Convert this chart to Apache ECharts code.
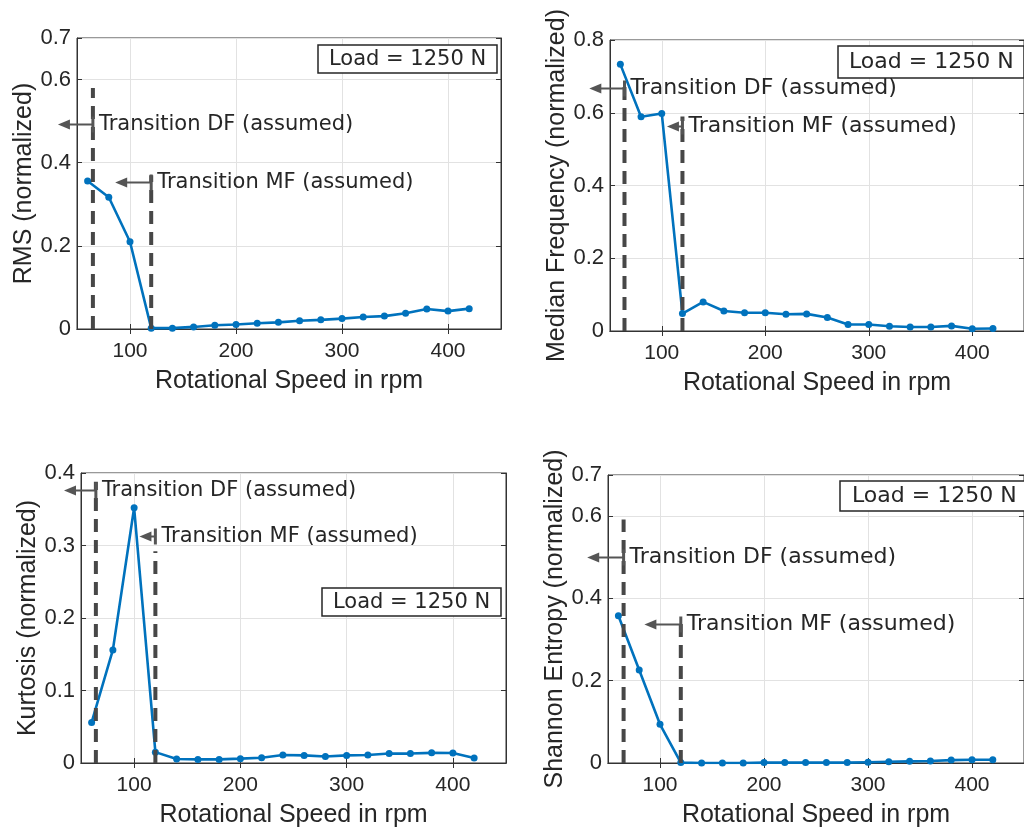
<!DOCTYPE html>
<html>
<head>
<meta charset="utf-8">
<script src="https://cdn.jsdelivr.net/npm/echarts@6/dist/echarts.min.js"></script>
<style>
html,body{margin:0;padding:0;background:#fff;}
#chart{width:1024px;height:829px;}
</style>
</head>
<body>
<div id="chart"></div>
<script>
// ---------- data ----------
const rpm = [60, 80, 100, 120, 140, 160, 180, 200, 220, 240, 260, 280, 300, 320, 340, 360, 380, 400, 420];
const rmsValues = [0.356, 0.317, 0.210, 0.002, 0.002, 0.005, 0.009, 0.011, 0.014, 0.016, 0.020, 0.022, 0.025, 0.029, 0.031, 0.038, 0.048, 0.043, 0.049];
const medianValues = [0.733, 0.589, 0.598, 0.048, 0.080, 0.055, 0.050, 0.050, 0.046, 0.047, 0.037, 0.018, 0.018, 0.013, 0.011, 0.011, 0.014, 0.006, 0.007];
const kurtosisValues = [0.056, 0.156, 0.352, 0.015, 0.0055, 0.005, 0.005, 0.006, 0.0073, 0.011, 0.0105, 0.009, 0.0105, 0.011, 0.013, 0.013, 0.014, 0.0137, 0.007];
const entropyValues = [0.358, 0.226, 0.094, 0.001, 0, 0, 0, 0.001, 0.001, 0.001, 0.001, 0.001, 0.002, 0.003, 0.004, 0.005, 0.007, 0.008, 0.008];

const xTickValues = [100, 200, 300, 400];
const yTicksRms = [0, 0.2, 0.4, 0.6, 0.7];
const yTicksMedian = [0, 0.2, 0.4, 0.6, 0.8];
const yTicksKurtosis = [0, 0.1, 0.2, 0.3, 0.4];
const yTicksEntropy = [0, 0.2, 0.4, 0.6, 0.7];

const yNames = ['RMS (normalized)', 'Median Frequency (normalized)', 'Kurtosis (normalized)', 'Shannon Entropy (normalized)'];
const xName = 'Rotational Speed in rpm';
const loadText = 'Load = 1250 N';
const annotationLabels = ['Transition DF (assumed)', 'Transition MF (assumed)'];

// transition markers (rpm) and annotation anchors per panel
const dfRpm = [65, 64, 64, 65];
const mfRpm = [120, 120, 120, 120];
const dfDashTop = [0.58, 0.69, 0.388, 0.592];
const mfDashTop = [0.37, 0.59, 0.292, 0.356];
const dfArrowY = [0.493, 0.669, 0.377, 0.5];
const mfArrowY = [0.353, 0.563, 0.313, 0.338];
const dfArrowTip = [32, 30, 34, 30];
const mfArrowTip = [86, 105, 105, 85];

// ---------- layout ----------
const grids = [
  {left: 77, top: 38, width: 424, height: 291},
  {left: 610, top: 40, width: 424, height: 291},
  {left: 81, top: 473, width: 425, height: 291},
  {left: 608, top: 475, width: 424, height: 292}
];
const loadBoxes = [
  {left: 318, top: 45, size: 21, pad: [4, 11, 3, 11]},
  {left: 838, top: 46, size: 22, pad: [5, 11, 5, 11]},
  {left: 322, top: 588, size: 21, pad: [4, 11, 3, 11]},
  {left: 840, top: 481, size: 22, pad: [4, 12, 4, 12]}
];
const annoSizes = [21, 22, 21, 22];
const seriesValues = [rmsValues, medianValues, kurtosisValues, entropyValues];
const yTickSets = [yTicksRms, yTicksMedian, yTicksKurtosis, yTicksEntropy];

const AX = '#333333';
const GRIDC = '#e2e2e2';
const TXT = '#262626';
const LABEL_FONT = '"Liberation Sans", Arial, sans-serif';
const ANNO_FONT = '"DejaVu Sans", Verdana, sans-serif';

const xAxes = [], yAxes = [], series = [], titles = [];

grids.forEach((g, i) => {
  const yt = yTickSets[i];
  const yMax = yt[yt.length - 1];
  xAxes.push({
    type: 'value', gridIndex: i, min: 50, max: 450, position: 'bottom',
    name: xName, nameLocation: 'middle', nameGap: 40,
    nameTextStyle: {fontFamily: LABEL_FONT, fontSize: 25, color: TXT},
    axisLine: {show: true, lineStyle: {color: AX, width: 1}},
    axisTick: {show: true, inside: true, length: 5, lineStyle: {color: AX}, customValues: xTickValues},
    axisLabel: {fontFamily: LABEL_FONT, fontSize: 21, color: TXT, margin: 12, customValues: xTickValues},
    splitLine: {show: true, lineStyle: {color: GRIDC, width: 1}}
  });
  yAxes.push({
    type: 'value', gridIndex: i, min: 0, max: yMax, position: 'left',
    name: yNames[i], nameLocation: 'middle', nameGap: 40, nameRotate: 90,
    nameTextStyle: {fontFamily: LABEL_FONT, fontSize: 25, color: TXT},
    axisLine: {show: true, lineStyle: {color: AX, width: 1}},
    axisTick: {show: true, inside: true, length: 5, lineStyle: {color: AX}, customValues: yt},
    axisLabel: {fontFamily: LABEL_FONT, fontSize: 22, color: TXT, margin: 6, customValues: yt,
      formatter: v => (v === 0 ? '0' : String(+v.toFixed(2)))},
    splitLine: {show: true, lineStyle: {color: GRIDC, width: 1}}
  });
});
// mirrored box axes (top / right) with inward ticks
grids.forEach((g, i) => {
  const yt = yTickSets[i];
  xAxes.push({
    type: 'value', gridIndex: i, min: 50, max: 450, position: 'top',
    axisLine: {show: true, lineStyle: {color: AX, width: 1}},
    axisTick: {show: true, inside: true, length: 5, lineStyle: {color: AX}, customValues: xTickValues},
    axisLabel: {show: false}, splitLine: {show: false}
  });
  yAxes.push({
    type: 'value', gridIndex: i, min: 0, max: yt[yt.length - 1], position: 'right',
    axisLine: {show: true, lineStyle: {color: AX, width: 1}},
    axisTick: {show: true, inside: true, length: 5, lineStyle: {color: AX}, customValues: yt},
    axisLabel: {show: false}, splitLine: {show: false}
  });
});

function renderDash(params, api) {
  const x = api.value(0);
  const p0 = api.coord([x, 0]);
  const p1 = api.coord([x, api.value(1)]);
  return {
    type: 'line', z2: 5,
    shape: {x1: p0[0], y1: p0[1], x2: p1[0], y2: p1[1]},
    style: {stroke: '#474747', lineWidth: 4, lineDash: [13, 8], fill: null}
  };
}
function makeArrowRenderer(panel) {
  return function (params, api) {
    const bar = api.coord([api.value(0), api.value(1)]);
    const tip = api.coord([api.value(2), api.value(1)]);
    const label = annotationLabels[params.dataIndex];
    const y = Math.round(bar[1]) + 0.5;
    return {
      type: 'group', z2: 10,
      children: [
        {type: 'line', shape: {x1: bar[0], y1: y, x2: tip[0] + 10, y2: y},
          style: {stroke: '#555555', lineWidth: 2}},
        {type: 'polygon', shape: {points: [[tip[0], y], [tip[0] + 12, y - 5], [tip[0] + 12, y + 5]]},
          style: {fill: '#555555'}},
        {type: 'line', shape: {x1: bar[0], y1: y - 8, x2: bar[0], y2: y + 8},
          style: {stroke: '#555555', lineWidth: 3}},
        {type: 'text', x: bar[0] + 6, y: y,
          style: {text: label, fontFamily: ANNO_FONT, fontSize: annoSizes[panel], fill: TXT,
            align: 'left', verticalAlign: 'middle', textAlign: 'left', textVerticalAlign: 'middle'}}
      ]
    };
  };
}

grids.forEach((g, i) => {
  series.push({
    type: 'line', xAxisIndex: i, yAxisIndex: i, z: 3,
    data: rpm.map((r, k) => [r, seriesValues[i][k]]),
    symbol: 'circle', symbolSize: 7, showSymbol: true,
    lineStyle: {color: '#0072BD', width: 2.6},
    itemStyle: {color: '#0072BD'},
    animation: false, silent: true
  });
  series.push({
    type: 'custom', xAxisIndex: i, yAxisIndex: i, z: 5, clip: false,
    renderItem: renderDash,
    data: [[dfRpm[i], dfDashTop[i]], [mfRpm[i], mfDashTop[i]]],
    animation: false, silent: true
  });
  series.push({
    type: 'custom', xAxisIndex: i, yAxisIndex: i, z: 6, clip: false,
    renderItem: makeArrowRenderer(i),
    data: [[dfRpm[i], dfArrowY[i], dfArrowTip[i]], [mfRpm[i], mfArrowY[i], mfArrowTip[i]]],
    animation: false, silent: true
  });
  titles.push({
    text: loadText, left: loadBoxes[i].left, top: loadBoxes[i].top,
    padding: loadBoxes[i].pad, borderColor: '#262626', borderWidth: 1.5,
    backgroundColor: '#ffffff', z: 10,
    textStyle: {fontFamily: ANNO_FONT, fontSize: loadBoxes[i].size, fontWeight: 'normal', color: TXT}
  });
});

const chart = echarts.init(document.getElementById('chart'), null, {renderer: 'canvas'});
chart.setOption({
  backgroundColor: '#ffffff',
  animation: false,
  title: titles,
  grid: grids.map(g => Object.assign({show: true, borderColor: AX, borderWidth: 1, backgroundColor: 'transparent', containLabel: false}, g)),
  xAxis: xAxes,
  yAxis: yAxes,
  series: series
});
</script>
</body>
</html>
